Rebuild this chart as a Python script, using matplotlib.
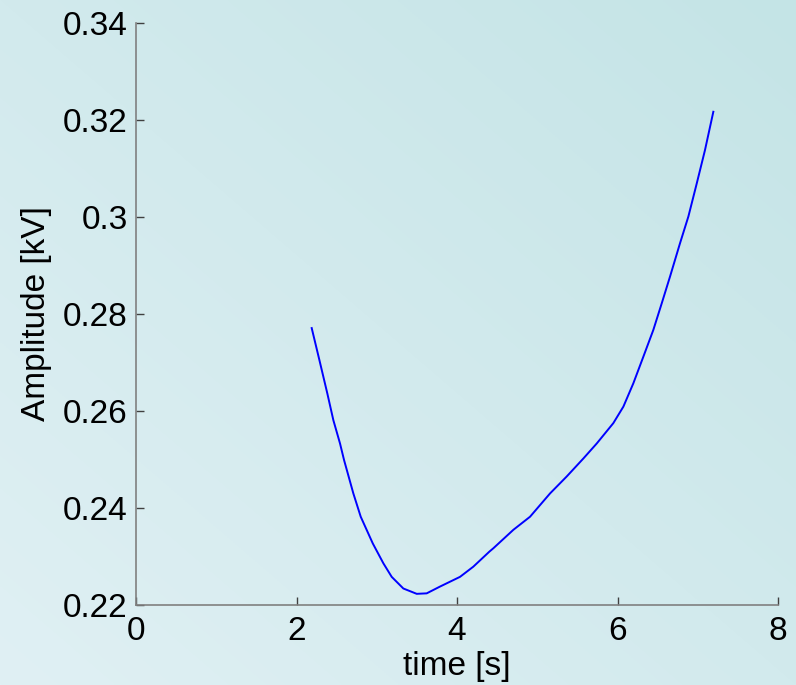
import numpy as np
import matplotlib
matplotlib.use("Agg")
from matplotlib import pyplot as plt

# values
time_s = [2.189, 2.285, 2.384, 2.459, 2.542, 2.592, 2.708, 2.800, 2.950, 3.082,
          3.186, 3.331, 3.498, 3.622, 3.788, 4.037, 4.203, 4.403, 4.453, 4.702,
          4.910, 5.159, 5.367, 5.574, 5.741, 5.948, 6.073, 6.197, 6.322, 6.446,
          6.551, 6.654, 6.779, 6.883, 6.987, 7.090, 7.194]
amplitude_kv = [0.2771, 0.2705, 0.2636, 0.2581, 0.2533, 0.2499, 0.2430, 0.2382,
                0.2327, 0.2286, 0.2258, 0.2234, 0.2223, 0.2224, 0.2238, 0.2258,
                0.2279, 0.2310, 0.2317, 0.2355, 0.2382, 0.2430, 0.2465, 0.2502,
                0.2533, 0.2575, 0.2609, 0.2657, 0.2712, 0.2767, 0.2822, 0.2877,
                0.2946, 0.3001, 0.3069, 0.3138, 0.3217]
x_ticks = [0, 2, 4, 6, 8]
y_ticks = [0.22, 0.24, 0.26, 0.28, 0.3, 0.32, 0.34]
y_tick_labels = ["0.22", "0.24", "0.26", "0.28", "0.3", "0.32", "0.34"]

plt.rcParams['font.family'] = ['Liberation Sans', 'DejaVu Sans']

fig = plt.figure(figsize=(7.96, 6.85), dpi=100)

# diagonal gradient background (light bottom-left -> darker top-right)
bg = fig.add_axes([0, 0, 1, 1], zorder=0)
bg.axis("off")
gx, gy = np.meshgrid(np.linspace(0, 1, 400), np.linspace(0, 1, 400))
t = (gx + gy) / 2
c0 = np.array([224, 240, 244]) / 255
c1 = np.array([196, 228, 230]) / 255
img = c0 + (c1 - c0) * t[..., None]
bg.imshow(img, origin="lower", extent=[0, 1, 0, 1], aspect="auto")

ax = fig.add_axes([0.1709, 0.1168, 0.8065, 0.8496], zorder=1)
ax.patch.set_alpha(0)
ax.plot(time_s, amplitude_kv, color="#0000ff", linewidth=1.4)

ax.set_xlim(0, 8)
ax.set_ylim(0.22, 0.34)
ax.set_xticks(x_ticks)
ax.set_yticks(y_ticks)
ax.set_yticklabels(y_tick_labels)

for side in ["top", "right"]:
    ax.spines[side].set_visible(False)
for side in ["left", "bottom"]:
    ax.spines[side].set_color("#808080")
    ax.spines[side].set_linewidth(1.2)

ax.tick_params(direction="in", length=6, width=1, colors="#404040",
               labelcolor="black", labelsize=24)
ax.tick_params(axis="y", pad=6)
ax.tick_params(axis="x", pad=8)

ax.set_xlabel("time [s]", fontsize=24, labelpad=3)
ax.set_ylabel("Amplitude [kV]", fontsize=24, labelpad=8)

fig.savefig("out.png", dpi=100)
